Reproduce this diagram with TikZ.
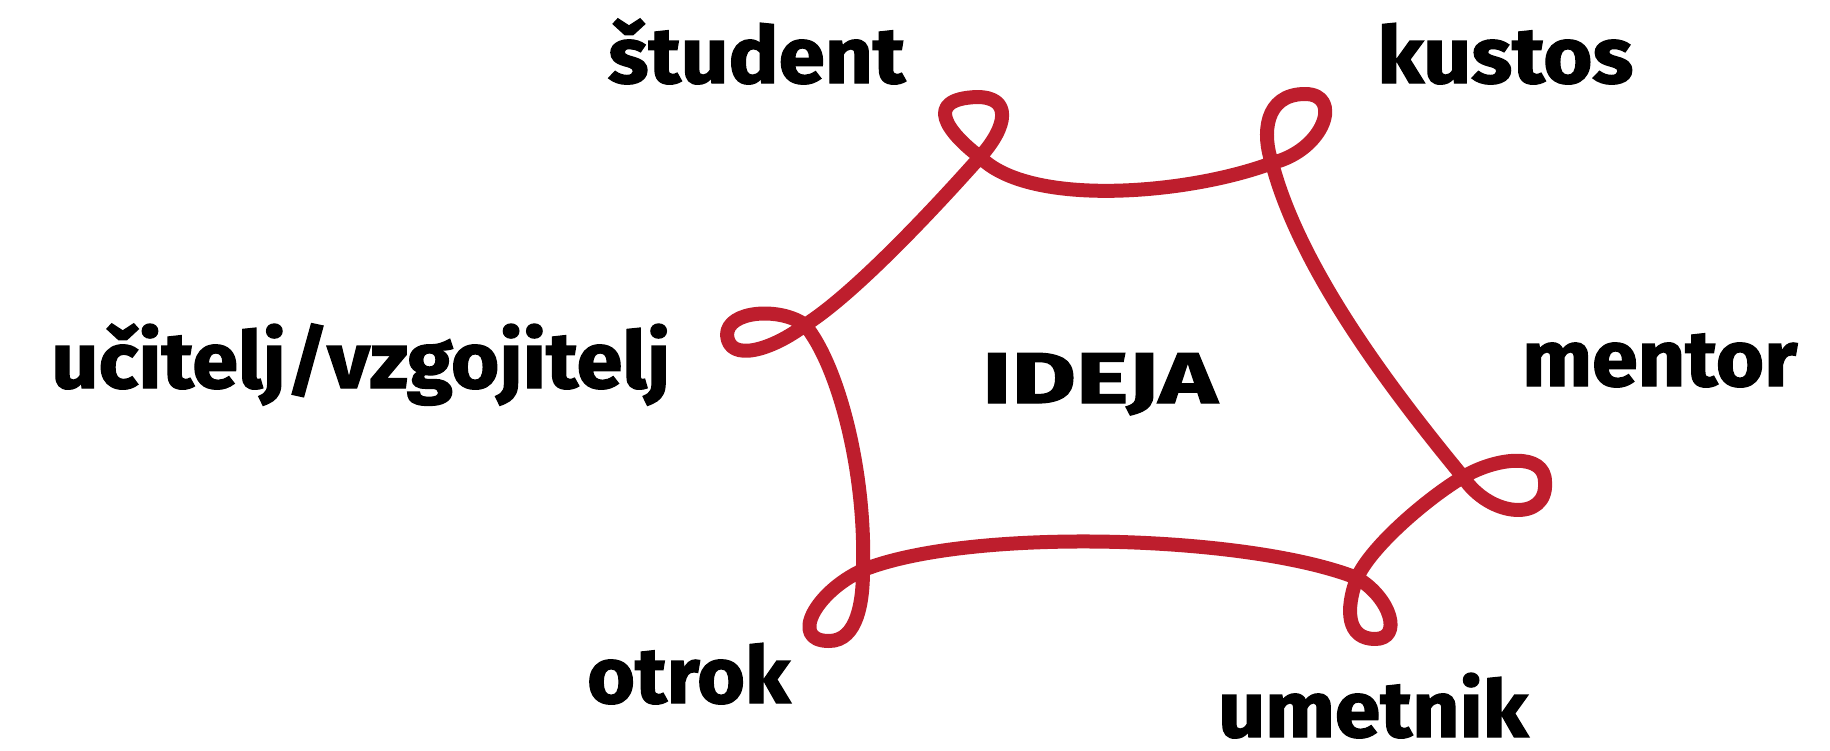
\documentclass[tikz,border=0pt]{standalone}
\usepackage{fontspec}
\setmainfont{Fira Sans}[BoldFeatures={FakeBold=1.6}]
\usepackage{graphicx}
\definecolor{ribbon}{RGB}{190,30,45}
\newcommand\fitlbl[2]{\resizebox{#1}{\height}{#2}}
\tikzset{
  lbl/.style={anchor=base west, inner sep=0pt, font=\fontsize{79}{84}\selectfont\bfseries},
  ribbonline/.style={draw=ribbon, line width=14pt, line cap=round, line join=round}
}
\begin{document}
\begin{tikzpicture}[x=1pt,y=-1pt]
\useasboundingbox (0,0) rectangle (1830,750);
% crossing points of the loops
\coordinate (XS) at (980,157);
\coordinate (XK) at (1272,163);
\coordinate (XM) at (1463,477);
\coordinate (XU) at (1357,578);
\coordinate (XO) at (863,570);
\coordinate (XC) at (805,325);
% loop apexes
\coordinate (TS) at (977,97);
\coordinate (TK) at (1305,94);
\coordinate (RM) at (1545,482);
\coordinate (BU) at (1375,639);
\coordinate (BO) at (829,641);
\coordinate (LC) at (727,335);

\draw[ribbonline]
  (XS) .. controls (1008,126) and (1012,97) .. (TS)
       .. controls (922,99) and (948,133) .. (XS)
       .. controls (1030,208) and (1190,194) .. (XK)
       .. controls (1325,150) and (1343,94) .. (TK)
       .. controls (1264,94) and (1262,135) .. (XK)
       .. controls (1300,270) and (1393,392) .. (XM)
       .. controls (1490,518) and (1548,522) .. (RM)
       .. controls (1545,452) and (1497,457) .. (XM)
       .. controls (1429,497) and (1371,546) .. (XU)
       .. controls (1345,610) and (1347,639) .. (BU)
       .. controls (1403,639) and (1391,598) .. (XU)
       .. controls (1249,535) and (971,527) .. (XO)
       .. controls (815,592) and (789,641) .. (BO)
       .. controls (858,641) and (863,600) .. (XO)
       .. controls (866,470) and (838,365) .. (XC)
       .. controls (781,307) and (727,310) .. (LC)
       .. controls (729,363) and (772,350) .. (XC)
       .. controls (856,293) and (940,202) .. (XS);

\node[lbl] (student) at (608,83) {\fitlbl{297pt}{študent}};
\node[lbl] (kustos) at (1377,83) {\fitlbl{256pt}{kustos}};
\node[lbl] (ucitelj) at (51,388) {\fitlbl{619pt}{učitelj/vzgojitelj}};
\node[lbl, font=\fontsize{72}{76}\selectfont\bfseries] (ideja) at (982,403) {\fitlbl{235pt}{IDEJA}};
\node[lbl] (mentor) at (1522,386) {\fitlbl{275pt}{mentor}};
\node[lbl] (otrok) at (587,703) {\fitlbl{203pt}{otrok}};
\node[lbl] (umetnik) at (1218,737) {\fitlbl{310pt}{umetnik}};
\end{tikzpicture}
\end{document}
